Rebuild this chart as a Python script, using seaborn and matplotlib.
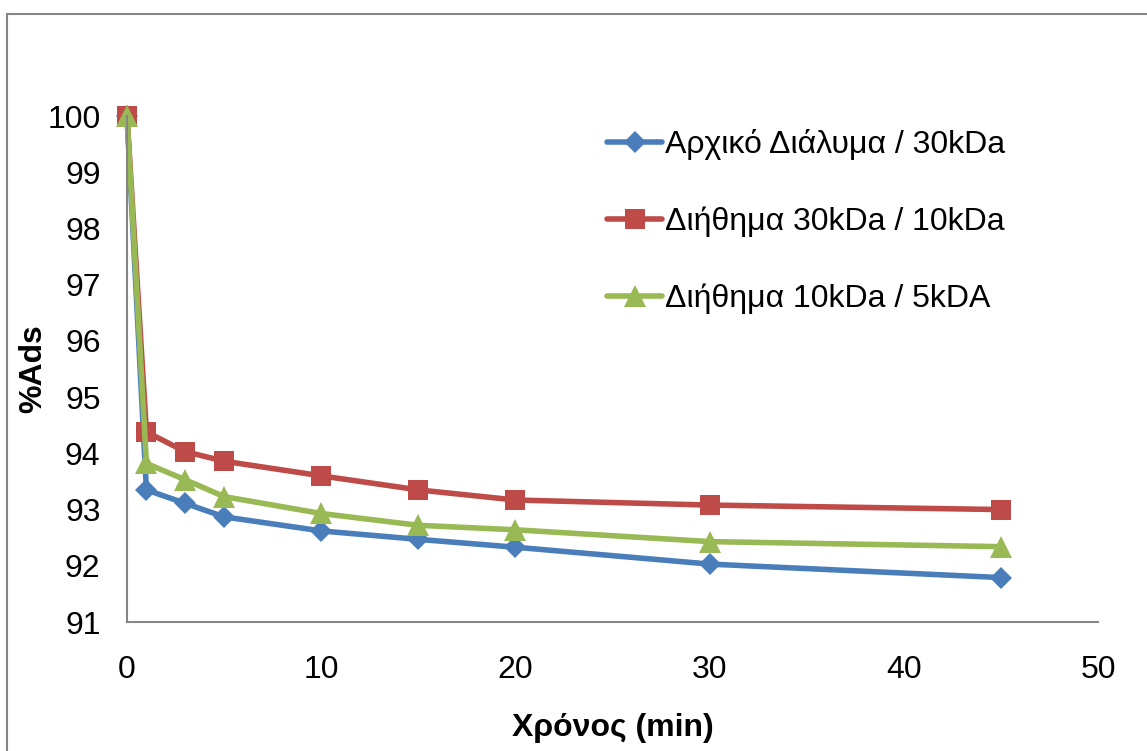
import pandas as pd
import matplotlib
matplotlib.use('Agg')
import matplotlib.pyplot as plt
import seaborn as sns
from matplotlib.patches import Rectangle

# Δεδομένα
time_min = [0, 1, 3, 5, 10, 15, 20, 30, 45]
series_names = ['Αρχικό Διάλυμα / 30kDa', 'Διήθημα 30kDa / 10kDa', 'Διήθημα 10kDa / 5kDA']
ads_initial = [100, 93.35, 93.11, 92.87, 92.62, 92.47, 92.33, 92.03, 91.79]
ads_30_10 = [100, 94.38, 94.03, 93.86, 93.60, 93.35, 93.17, 93.08, 93.00]
ads_10_5 = [100, 93.82, 93.53, 93.23, 92.93, 92.72, 92.64, 92.43, 92.34]

colors = ['#4a7ebb', '#be4b48', '#98b954']
markers = ['D', 's', '^']
marker_sizes = {'D': 11, 's': 15, '^': 16}

df = pd.DataFrame({
    'Χρόνος': time_min * 3,
    'Ads': ads_initial + ads_30_10 + ads_10_5,
    'Σειρά': [s for s in series_names for _ in time_min],
})

sns.set_theme(style='white')
plt.rcParams['font.family'] = ['Liberation Sans', 'DejaVu Sans']
plt.rcParams['text.color'] = 'black'
plt.rcParams['axes.labelcolor'] = 'black'

fig = plt.figure(figsize=(11.47, 7.51), dpi=100)
ax = fig.add_axes([127 / 1147, 1 - 622 / 751, (1098 - 127) / 1147, (622 - 116) / 751])

sns.lineplot(data=df, x='Χρόνος', y='Ads', hue='Σειρά', style='Σειρά',
             palette=dict(zip(series_names, colors)),
             markers=dict(zip(series_names, markers)), dashes=False,
             linewidth=4, markeredgewidth=0, ax=ax, clip_on=False)

ax.set_xlim(0, 50)
ax.set_ylim(91, 100)
ax.set_xticks(range(0, 51, 10))
ax.set_yticks(range(91, 101))
ax.tick_params(axis='both', labelsize=23, length=0, colors='black')
ax.tick_params(axis='x', pad=24)
ax.tick_params(axis='y', pad=19)

for side in ['top', 'right']:
    ax.spines[side].set_visible(False)
for side in ['left', 'bottom']:
    ax.spines[side].set_color('#868686')
    ax.spines[side].set_linewidth(1.5)

ax.set_xlabel('Χρόνος (min)', fontsize=23, fontweight='bold', labelpad=20)
ax.set_ylabel('%Ads', fontsize=23, fontweight='bold', labelpad=-1)

#Υπόμνημα
leg = ax.legend(loc='upper left', bbox_to_anchor=(0.465, 1.031), frameon=False,
                fontsize=23, handlelength=1.72, handletextpad=0.1, labelspacing=1.45)
for line in leg.get_lines():
    line.set_linewidth(4)

for line in list(ax.lines) + list(leg.get_lines()):
    m = line.get_marker()
    if m in marker_sizes:
        line.set_markersize(marker_sizes[m])

# Πλαίσιο γραφήματος
fig.patches.append(Rectangle((7 / 1147, -0.01), 1.02, 1 - 14 / 751 + 0.01,
                             transform=fig.transFigure, fill=False,
                             edgecolor='#868686', linewidth=1.5))

fig.savefig('out.png', dpi=100)
